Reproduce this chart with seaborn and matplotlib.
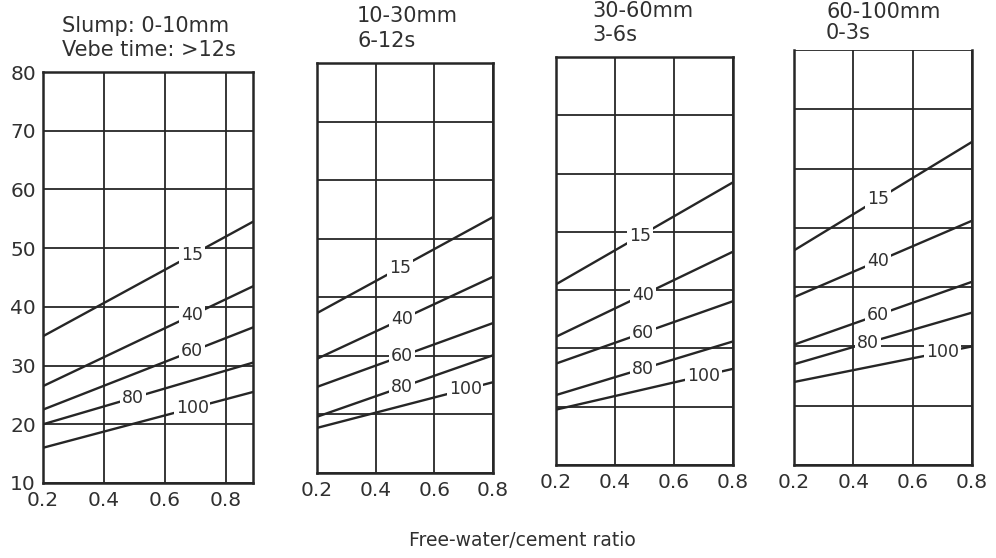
import matplotlib
matplotlib.use("Agg")
import matplotlib.pyplot as plt
import pandas as pd
import seaborn as sns

sns.set_theme(style="white")
plt.rcParams["font.family"] = ["DejaVu Sans"]

# Curve labels: percentage of fine aggregate passing the 600 um sieve
passing_600 = [15, 40, 60, 80, 100]

# Titles of the four workability panels
slump_titles = ["Slump: 0-10mm", "10-30mm", "30-60mm", "60-100mm"]
vebe_titles = ["Vebe time: >12s", "6-12s", "3-6s", "0-3s"]

# Free-water/cement ratio range spanned by the curves of each panel
wc_low = [0.2, 0.2, 0.2, 0.2]
wc_high = [0.89, 0.8, 0.8, 0.8]

# Proportion of fine aggregate (%) at the low and high end of each curve
fines_low_0_10 = [35.0, 26.5, 22.5, 20.0, 16.0]
fines_high_0_10 = [54.5, 43.5, 36.5, 30.5, 25.5]
fines_low_10_30 = [37.3, 29.5, 24.7, 19.6, 17.7]
fines_high_10_30 = [53.7, 43.5, 35.6, 30.1, 25.5]
fines_low_30_60 = [41.0, 32.0, 27.4, 22.0, 19.5]
fines_high_30_60 = [58.5, 46.6, 38.1, 31.2, 26.5]
fines_low_60_100 = [46.2, 38.3, 30.3, 27.0, 24.0]
fines_high_60_100 = [64.5, 51.2, 40.9, 35.7, 30.0]

x_ticks = [0.2, 0.4, 0.6, 0.8]
y_ticks = [10, 20, 30, 40, 50, 60, 70, 80]

fines_low = [fines_low_0_10, fines_low_10_30, fines_low_30_60, fines_low_60_100]
fines_high = [fines_high_0_10, fines_high_10_30, fines_high_30_60, fines_high_60_100]

# ---- layout (pixels on a 996 x 558 canvas) ----
W, H = 996, 558
# left, right, top, bottom of each plotting box
boxes = [(43, 253, 72, 483), (317, 493, 63, 473), (556, 733, 57, 465), (794, 972, 50, 465)]
# where along the ratio axis each curve label sits
label_at = [
    [0.69, 0.69, 0.69, 0.495, 0.69],
    [0.483, 0.49, 0.49, 0.49, 0.705],
    [0.485, 0.495, 0.495, 0.495, 0.70],
    [0.483, 0.483, 0.483, 0.45, 0.70],
]
# title anchor (x, baseline of first line, baseline of second line)
title_pos = [(62, 32, 56), (357, 22, 47), (592, 17, 41), (826, 18, 39)]

ink = "#262626"
text_ink = "#303030"

fig = plt.figure(figsize=(W / 100, H / 100), dpi=100)
fig.patch.set_facecolor("white")

for i in range(4):
    l, r, t, b = boxes[i]
    ax = fig.add_axes([l / W, 1 - b / H, (r - l) / W, (b - t) / H])
    ax.set_facecolor("white")

    rows = []
    for p, lo, hi in zip(passing_600, fines_low[i], fines_high[i]):
        rows.append({"wc": wc_low[i], "fines": lo, "passing": p})
        rows.append({"wc": wc_high[i], "fines": hi, "passing": p})
    df = pd.DataFrame(rows)
    sns.lineplot(data=df, x="wc", y="fines", units="passing", estimator=None,
                 color=ink, linewidth=1.7, ax=ax, legend=False, zorder=3)

    # curve labels placed on their own curve, masking it locally
    for p, lo, hi, xl in zip(passing_600, fines_low[i], fines_high[i], label_at[i]):
        yl = lo + (hi - lo) * (xl - wc_low[i]) / (wc_high[i] - wc_low[i])
        ax.text(xl, yl, str(p), fontsize=12.5, color=text_ink, ha="center", va="center",
                zorder=5, bbox=dict(facecolor="white", edgecolor="none", pad=1.2))

    ax.set_xlim(wc_low[i], wc_high[i])
    ax.set_ylim(10, 80)
    ax.set_xticks(x_ticks)
    ax.set_yticks(y_ticks)
    ax.set_xticklabels([f"{v:.1f}" for v in x_ticks])
    ax.set_yticklabels([str(v) for v in y_ticks])
    ax.grid(True, color=ink, linewidth=1.3, zorder=1)
    ax.set_axisbelow(True)
    ax.tick_params(length=0, labelsize=14.5, colors=text_ink)
    ax.tick_params(axis="x", pad=6)
    ax.tick_params(axis="y", pad=5)
    if i > 0:
        ax.tick_params(labelleft=False)
    ax.set_xlabel("")
    ax.set_ylabel("")
    for s in ax.spines.values():
        s.set_color(ink)
        s.set_linewidth(1.8)
    if i == 3:
        ax.spines["top"].set_visible(False)

    tx, y1, y2 = title_pos[i]
    fig.text(tx / W, 1 - y1 / H, slump_titles[i], fontsize=15, color=text_ink,
             ha="left", va="baseline")
    fig.text(tx / W, 1 - y2 / H, vebe_titles[i], fontsize=15, color=text_ink,
             ha="left", va="baseline")

fig.text(522 / W, 1 - 546 / H, "Free-water/cement ratio", fontsize=13.5,
         color=text_ink, ha="center", va="baseline")

fig.savefig("out.png", dpi=100, facecolor="white")
